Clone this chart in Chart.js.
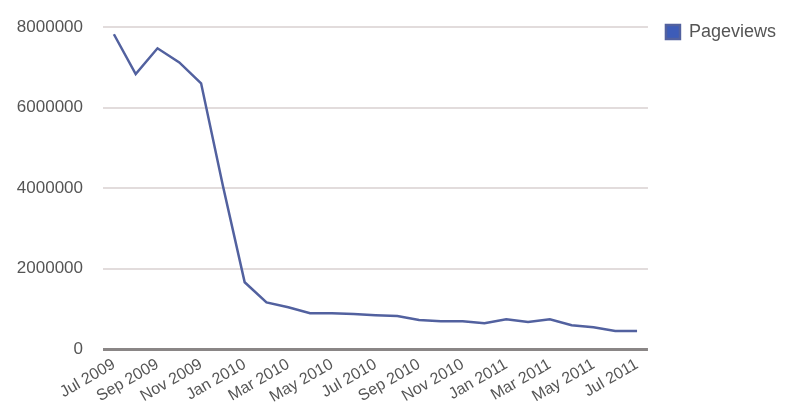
<!DOCTYPE html>
<html>
<head>
<meta charset="utf-8">
<script src="https://cdn.jsdelivr.net/npm/chart.js@4/dist/chart.umd.min.js"></script>
<style>
  html, body { margin: 0; padding: 0; background: #ffffff; }
  #wrap { width: 786px; height: 417px; }
</style>
</head>
<body>
<div id="wrap"><canvas id="c" width="786" height="417"></canvas></div>
<script>
// Monthly pageviews, Jul 2009 – Jul 2011
const months = [
  'Jul 2009', 'Aug 2009', 'Sep 2009', 'Oct 2009', 'Nov 2009', 'Dec 2009',
  'Jan 2010', 'Feb 2010', 'Mar 2010', 'Apr 2010', 'May 2010', 'Jun 2010',
  'Jul 2010', 'Aug 2010', 'Sep 2010', 'Oct 2010', 'Nov 2010', 'Dec 2010',
  'Jan 2011', 'Feb 2011', 'Mar 2011', 'Apr 2011', 'May 2011', 'Jun 2011',
  'Jul 2011'
];
const pageviews = [
  7830000, 6840000, 7480000, 7130000, 6610000, 4060000,
  1660000, 1160000, 1040000, 890000, 890000, 870000,
  840000, 820000, 720000, 690000, 690000, 640000,
  740000, 670000, 740000, 590000, 540000, 450000,
  450000
];
const yTicks = [0, 2000000, 4000000, 6000000, 8000000];
const seriesName = 'Pageviews';

const family = '"Liberation Sans", Arial, sans-serif';

new Chart(document.getElementById('c'), {
  type: 'line',
  data: {
    labels: months,
    datasets: [{
      label: seriesName,
      data: pageviews,
      borderColor: '#52619f',
      backgroundColor: '#3d5cb8',
      borderWidth: 2.5,
      pointRadius: 0,
      fill: false,
      tension: 0
    }]
  },
  options: {
    responsive: false,
    animation: false,
    layout: { padding: { top: 5, left: 0, right: 0, bottom: 0 } },
    plugins: {
      legend: {
        position: 'right',
        align: 'start',
        labels: {
          color: '#555',
          font: { family: family, size: 18 },
          boxWidth: 14,
          boxHeight: 14,
          padding: 18
        }
      },
      tooltip: { enabled: false }
    },
    scales: {
      x: {
        offset: true,
        grid: { display: false, drawTicks: false },
        border: { display: false },
        ticks: {
          autoSkip: false,
          maxRotation: 30,
          minRotation: 30,
          color: '#555',
          font: { family: family, size: 16 },
          padding: 6,
          callback: function (v, i) { return i % 2 === 0 ? months[i] : ''; }
        },
        afterFit: function (s) { s.height = 68; }
      },
      y: {
        min: 0,
        max: 8000000,
        afterBuildTicks: function (s) { s.ticks = yTicks.map(v => ({ value: v })); },
        grid: {
          drawTicks: false,
          lineWidth: c => (c.tick && c.tick.value === 0 ? 3 : 2),
          color: c => (c.tick && c.tick.value === 0 ? '#8a8686' : '#e2dcdc')
        },
        border: { display: false },
        ticks: {
          color: '#555',
          font: { family: family, size: 17, lineHeight: 0.87 },
          padding: 20,
          callback: v => String(v)
        },
        afterFit: function (s) { s.width = 103; }
      }
    }
  }
});
</script>
</body>
</html>
